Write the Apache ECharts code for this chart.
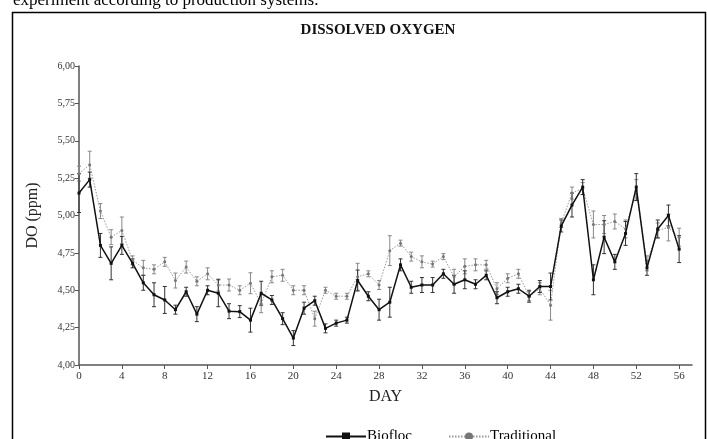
<!DOCTYPE html>
<html>
<head>
<meta charset="utf-8">
<script src="https://cdn.jsdelivr.net/npm/echarts@6/dist/echarts.min.js"></script>
<style>
html,body{margin:0;padding:0;background:#fff;}
#c{width:707px;height:439px;}
</style>
</head>
<body>
<div id="c"></div>
<script>
const days = [0,1,2,3,4,5,6,7,8,9,10,11,12,13,14,15,16,17,18,19,20,21,22,23,24,25,26,27,28,29,30,31,32,33,34,35,36,37,38,39,40,41,42,43,44,45,46,47,48,49,50,51,52,53,54,55,56];
const xTickLabels = [0,4,8,12,16,20,24,28,32,36,40,44,48,52,56];
const biofloc = [5.15,5.24,4.80,4.68,4.80,4.68,4.55,4.47,4.435,4.37,4.49,4.34,4.50,4.48,4.36,4.357,4.30,4.48,4.435,4.31,4.18,4.38,4.43,4.245,4.28,4.30,4.565,4.46,4.37,4.42,4.67,4.52,4.535,4.535,4.61,4.54,4.57,4.54,4.60,4.45,4.49,4.51,4.46,4.525,4.525,4.93,5.07,5.19,4.57,4.855,4.69,4.88,5.19,4.65,4.91,5.00,4.775];
const bioflocErr = [0.13,0.05,0.08,0.11,0.06,0.03,0.05,0.08,0.09,0.03,0.03,0.05,0.03,0.09,0.05,0.04,0.08,0.08,0.03,0.04,0.05,0.04,0.03,0.03,0.02,0.02,0.07,0.03,0.07,0.10,0.04,0.04,0.05,0.05,0.03,0.06,0.06,0.03,0.03,0.04,0.03,0.03,0.04,0.04,0.09,0.04,0.08,0.05,0.10,0.11,0.05,0.08,0.09,0.05,0.06,0.07,0.09];
const traditional = [5.28,5.34,5.03,4.855,4.90,4.70,4.65,4.64,4.69,4.565,4.655,4.56,4.61,4.535,4.535,4.50,4.547,4.41,4.59,4.60,4.50,4.50,4.31,4.50,4.46,4.46,4.59,4.61,4.535,4.765,4.815,4.725,4.69,4.675,4.725,4.59,4.66,4.67,4.67,4.51,4.58,4.61,4.46,4.51,4.40,4.95,5.15,5.18,4.94,4.94,4.96,4.91,5.17,4.68,4.90,4.92,4.855];
const traditionalErr = [0.05,0.09,0.05,0.05,0.09,0.03,0.05,0.03,0.03,0.05,0.04,0.03,0.04,0.04,0.04,0.03,0.07,0.06,0.04,0.04,0.03,0.03,0.05,0.02,0.02,0.02,0.09,0.02,0.03,0.10,0.02,0.03,0.04,0.02,0.02,0.05,0.05,0.04,0.03,0.04,0.03,0.03,0.03,0.04,0.10,0.03,0.04,0.04,0.09,0.06,0.05,0.06,0.07,0.05,0.05,0.09,0.06];

const serif = '"Liberation Serif","DejaVu Serif",serif';

function errSeries(name, vals, errs, color, z) {
  return {
    type: 'custom', name: name, z: z, silent: true,
    data: days.map((d, i) => [d, vals[i] - errs[i], vals[i] + errs[i]]),
    encode: { x: 0, y: [1, 2] },
    renderItem: function (params, api) {
      const x = api.value(0);
      const lo = api.coord([x, api.value(1)]);
      const hi = api.coord([x, api.value(2)]);
      const w = 2;
      const st = { stroke: color, lineWidth: 1 };
      return { type: 'group', children: [
        { type: 'line', shape: { x1: lo[0], y1: lo[1], x2: hi[0], y2: hi[1] }, style: st },
        { type: 'line', shape: { x1: lo[0] - w, y1: lo[1], x2: lo[0] + w, y2: lo[1] }, style: st },
        { type: 'line', shape: { x1: hi[0] - w, y1: hi[1], x2: hi[0] + w, y2: hi[1] }, style: st }
      ]};
    }
  };
}

const chart = echarts.init(document.getElementById('c'), null, { renderer: 'canvas' });
chart.setOption({
  animation: false,
  backgroundColor: '#fff',
  graphic: [
    { type: 'rect', shape: { x: 12.5, y: 12.5, width: 693, height: 440 }, style: { fill: 'none', stroke: '#000', lineWidth: 1.5 }, z: 100 },
    { type: 'text', left: 13, top: -8, style: { text: 'experiment according to production systems.', font: '17px "Liberation Serif", serif', fill: '#000' } },
    { type: 'text', x: 378, y: 30, style: { text: 'DISSOLVED OXYGEN', font: 'bold 15px "Liberation Serif", serif', fill: '#111', textAlign: 'center', textVerticalAlign: 'middle' } }
  ],
  legend: {
    data: ['Biofloc', 'Traditional'],
    left: 320, top: 424, itemGap: 36, itemWidth: 40, itemHeight: 10,
    textStyle: { fontFamily: serif, fontSize: 15, color: '#000', padding: [0, 0, 0, -4] }
  },
  grid: { left: 79, right: 15, top: 66, bottom: 74 },
  xAxis: {
    type: 'value', min: 0, max: 57.2, interval: 4,
    name: 'DAY', nameLocation: 'middle', nameGap: 24,
    nameTextStyle: { fontFamily: serif, fontSize: 16, color: '#222' },
    axisLine: { show: true, lineStyle: { color: '#555', width: 1.5 } },
    axisTick: { show: true, length: 4, lineStyle: { color: '#555' }, customValues: xTickLabels },
    axisLabel: { fontFamily: serif, fontSize: 11, color: '#333', margin: 6, customValues: xTickLabels },
    splitLine: { show: false }
  },
  yAxis: {
    type: 'value', min: 4, max: 6, interval: 0.25,
    name: 'DO (ppm)', nameLocation: 'middle', nameGap: 38,
    nameTextStyle: { fontFamily: serif, fontSize: 16, color: '#222' },
    axisLine: { show: true, lineStyle: { color: '#555', width: 1.5 } },
    axisTick: { show: true, length: 4, lineStyle: { color: '#555' } },
    axisLabel: { fontFamily: serif, fontSize: 10, color: '#333', margin: 4,
      formatter: v => v.toFixed(2).replace('.', ',') },
    splitLine: { show: false }
  },
  series: [
    errSeries('tradErr', traditional, traditionalErr, '#888', 2),
    errSeries('bioErr', biofloc, bioflocErr, '#333', 3),
    {
      name: 'Traditional', type: 'line', z: 4,
      data: days.map((d, i) => [d, traditional[i]]),
      symbol: 'circle', symbolSize: 3, showSymbol: true,
      lineStyle: { color: '#999', width: 1, type: [1.5, 1.5] },
      itemStyle: { color: '#777' }
    },
    {
      name: 'Biofloc', type: 'line', z: 5,
      data: days.map((d, i) => [d, biofloc[i]]),
      symbol: 'rect', symbolSize: 3, showSymbol: true,
      lineStyle: { color: '#111', width: 1.5 },
      itemStyle: { color: '#111' }
    }
  ]
});
</script>
</body>
</html>
